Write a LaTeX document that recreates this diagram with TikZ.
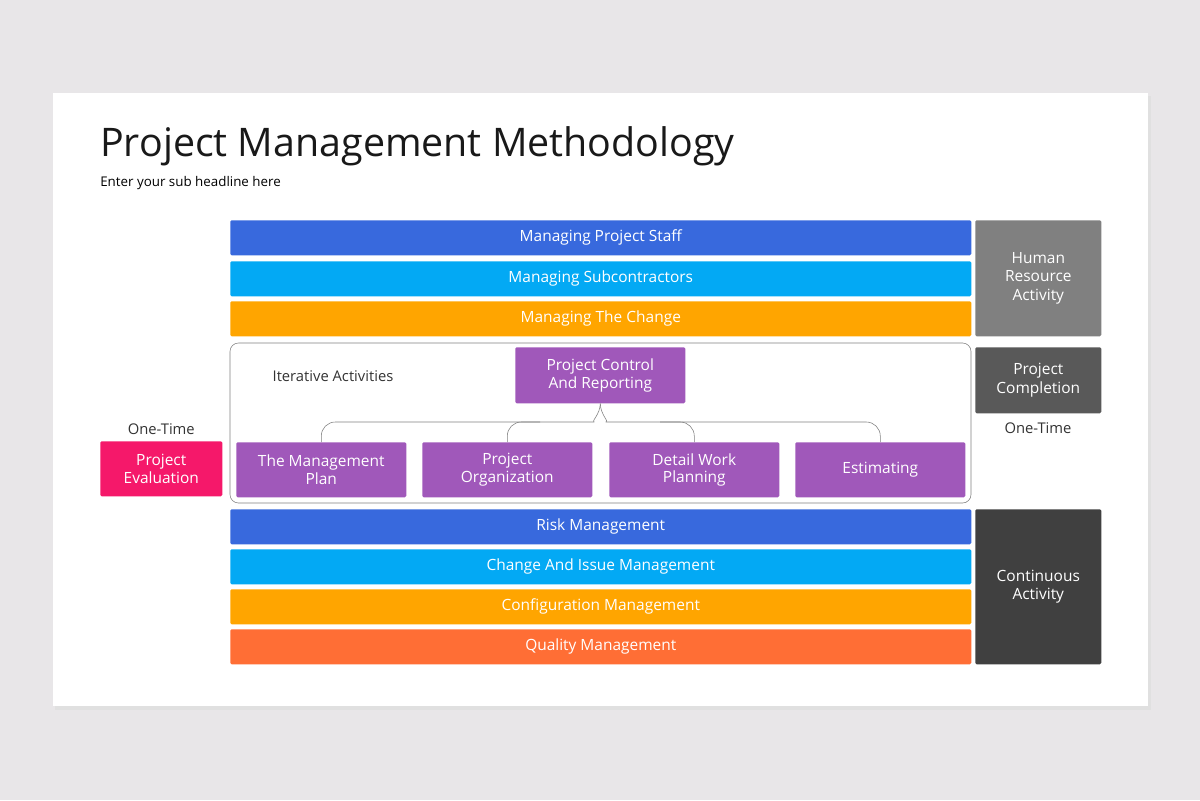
\documentclass[tikz,border=0pt]{standalone}
\usepackage{fontspec}
\setmainfont{Open Sans}
\usetikzlibrary{calc, positioning}
\definecolor{bgcol}{HTML}{E8E6E8}
\definecolor{barblue}{HTML}{3869DD}
\definecolor{barcyan}{HTML}{03A9F4}
\definecolor{barorange}{HTML}{FFA500}
\definecolor{barred}{HTML}{FF6E35}
\definecolor{boxpurple}{HTML}{A058BA}
\definecolor{boxpink}{HTML}{F5186A}
\tikzstyle{bar}=[draw=none, minimum width=741*0.025cm, minimum height=35*0.025cm, inner sep=0pt, text=white, font=\fontsize{11}{13}\selectfont, anchor=north west, rounded corners=1pt]
\tikzstyle{side}=[bar, minimum width=126*0.025cm, align=center]
\tikzstyle{task}=[bar, fill=boxpurple, minimum width=170*0.025cm, minimum height=55*0.025cm, align=center, font=\fontsize{11}{12.5}\selectfont]
\tikzstyle{plain}=[font=\fontsize{10.5}{12}\selectfont, text=black!80]
\begin{document}
\begin{tikzpicture}[x=0.025cm, y=-0.025cm]
		% Background and card
		\fill[bgcol] (0,0) rectangle (1200,800);
		\fill[black!12] (55,96) rectangle (1151,710);
		\fill[white] (53,93) rectangle (1148,706);
		% Title
		\node[anchor=base west, inner sep=0pt, font=\fontsize{28}{32}\selectfont, text=black!90] (title) at (100,157) {Project Management Methodology};
		\node[anchor=base west, inner sep=0pt, font=\fontsize{9.5}{11}\selectfont] (sub) at (100,187) {Enter your sub headline here};
		% Top bars
		\node[bar, fill=barblue] (staff) at (230,220) {Managing Project Staff};
		\node[bar, fill=barcyan] (subc) at (230,261) {Managing Subcontractors};
		\node[bar, fill=barorange] (change) at (230,301) {Managing The Change};
		% Iterative frame
		\draw[black!50, rounded corners=6pt] (230,343) rectangle (971,503);
		\node[plain] (iter) at (333,376) {Iterative Activities};
		\node[task, minimum height=56*0.025cm] (ctrl) at (515,347) {Project Control\\And Reporting};
		\node[task] (plan) at (236,442) {The Management\\Plan};
		\node[task] (org) at (422,442) {Project\\Organization};
		\node[task] (work) at (609,442) {Detail Work\\Planning};
		\node[task] (est) at (795,442) {Estimating};
		\draw[black!50, rounded corners=10pt] (plan.north) |- (580,422) to[out=0, in=-90] (ctrl.south);
		\draw[black!50, rounded corners=10pt] (est.north) |- (620,422) to[out=180, in=-90] (ctrl.south);
		\draw[black!50, rounded corners=10pt] (org.north) |- (540,422);
		\draw[black!50, rounded corners=10pt] (work.north) |- (660,422);
		% Bottom bars
		\node[bar, fill=barblue] (risk) at (230,509) {Risk Management};
		\node[bar, fill=barcyan] (issue) at (230,549) {Change And Issue Management};
		\node[bar, fill=barorange] (config) at (230,589) {Configuration Management};
		\node[bar, fill=barred] (quality) at (230,629) {Quality Management};
		% Side boxes
		\node[side, fill=black!50, minimum height=116*0.025cm] (human) at (975,220) {Human\\Resource\\Activity};
		\node[side, fill=black!65, minimum height=66*0.025cm] (compl) at (975,347) {Project\\Completion};
		\node[side, fill=black!75, minimum height=155*0.025cm] (cont) at (975,509) {Continuous\\Activity};
		\node[side, fill=boxpink, minimum width=122*0.025cm, minimum height=55*0.025cm] (eval) at (100,441) {Project\\Evaluation};
		\node[plain, above=1pt of eval] (once1) {One-Time};
		\node[plain] (once2) at (1038,428) {One-Time};
	\end{tikzpicture}
\end{document}
